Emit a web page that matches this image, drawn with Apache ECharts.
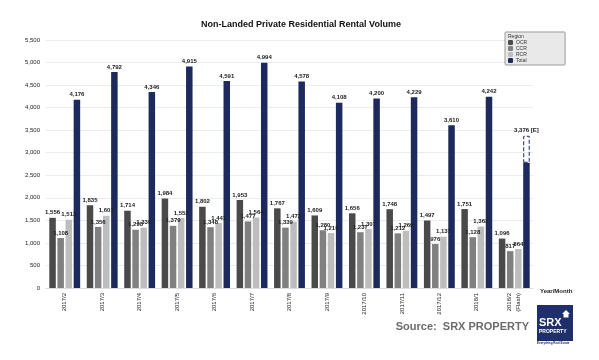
<!DOCTYPE html>
<html><head><meta charset="utf-8">
<script src="https://cdn.jsdelivr.net/npm/echarts@6/dist/echarts.min.js"></script>
<style>html,body{margin:0;padding:0;background:#fff}#c{width:599px;height:360px}</style>
</head><body><div id="c"></div>
<script>
const categories = ['2017/2','2017/3','2017/4','2017/5','2017/6','2017/7','2017/8','2017/9','2017/10','2017/11','2017/12','2018/1','2018/2\n(Flash)'];
const ocr   = [1556,1835,1714,1984,1802,1953,1767,1609,1656,1748,1497,1751,1096];
const ccr   = [1108,1356,1293,1379,1348,1477,1339,1280,1237,1212,976,1128,817];
const rcr   = [1513,1601,1339,1552,1441,1564,1472,1219,1307,1269,1137,1363,864];
const total = [4176,4792,4346,4915,4591,4994,4578,4108,4200,4229,3610,4242,2777];
const estimateTotal = 3376;
const yTicks = {min:0, max:5500, interval:500};

const estimateExtra = categories.map((c,i)=> i===categories.length-1 ? estimateTotal-total[i] : null);
const fmt = v => v.toLocaleString('en-US');
const lbl = {show:true, position:'top', fontSize:6, color:'#222', fontFamily:'Liberation Sans', fontWeight:'bold', distance:2, formatter:p=>fmt(p.value)};

const chart = echarts.init(document.getElementById('c'), null, {renderer:'canvas'});
chart.setOption({
  animation:false,
  textStyle:{fontFamily:'Liberation Sans'},
  title:{text:'Non-Landed Private Residential Rental Volume', left:296, top:15, textAlign:'center',
    textStyle:{fontSize:9, fontWeight:'bold', color:'#111', fontFamily:'Liberation Sans'}},
  legend:{orient:'vertical', left:505, top:32, width:65, itemWidth:5, itemHeight:5, itemGap:1,
    padding:[8,38,2,3], backgroundColor:'#e9e9e9', borderColor:'#999', borderWidth:1, borderRadius:1,
    textStyle:{fontSize:5, color:'#333', padding:[0,0,0,-2]},
    data:['OCR','CCR','RCR','Total']},
  grid:{left:46, right:66, top:40, bottom:72, containLabel:false},
  xAxis:{type:'category', data:categories,
    axisLine:{show:true, lineStyle:{color:'#ddd'}}, axisTick:{show:false},
    axisLabel:{rotate:90, fontSize:6, color:'#222', margin:5, lineHeight:9, interval:0}},
  yAxis:{type:'value', min:yTicks.min, max:yTicks.max, interval:yTicks.interval,
    axisLabel:{fontSize:6, color:'#222', margin:6, formatter:v=>fmt(v)},
    splitLine:{lineStyle:{color:'#ececec', width:1}}, axisLine:{show:false}, axisTick:{show:false}},
  graphic:[
    {type:'text', x:508, y:34, z:100, zlevel:1, style:{text:'Region', fontSize:5, fill:'#333', fontFamily:'Liberation Sans'}},
    {type:'text', x:540, y:288, style:{text:'Year/Month', fontSize:6, fontWeight:'bold', fill:'#222', fontFamily:'Liberation Sans'}},
    {type:'text', x:529, y:327, style:{text:'Source:  SRX PROPERTY', fontSize:11, fontWeight:'bold', fill:'#6b6b6b', fontFamily:'Liberation Sans', textAlign:'right', textVerticalAlign:'middle'}},
    {type:'rect', shape:{x:537, y:305, width:36, height:36}, style:{fill:'#1f2f6b'}},
    {type:'polygon', shape:{points:[[562,314],[566,310],[570,314],[568.5,314],[568.5,317.5],[563.5,317.5],[563.5,314]]}, style:{fill:'#fff'}},
    {type:'text', x:539, y:317, style:{text:'SRX', fontSize:11, fontWeight:'bold', fill:'#fff', fontFamily:'Liberation Sans'}},
    {type:'text', x:539, y:329, style:{text:'PROPERTY', fontSize:5, fontWeight:'bold', fill:'#fff', fontFamily:'Liberation Sans'}},
    {type:'text', x:537, y:342, style:{text:'Everything Real Estate', fontSize:3, fontWeight:'bold', fill:'#1f2f6b', fontFamily:'Liberation Sans'}}
  ],
  series:[
    {name:'OCR', type:'bar', data:ocr, barWidth:6.5, barGap:'25%', barCategoryGap:'17%', itemStyle:{color:'#4a4a4a'}, label:lbl},
    {name:'CCR', type:'bar', data:ccr, barWidth:6.5, itemStyle:{color:'#808080'}, label:lbl},
    {name:'RCR', type:'bar', data:rcr, barWidth:6.5, itemStyle:{color:'#bdbdbd'}, label:lbl},
    {name:'Total', type:'bar', stack:'tot', data:total, barWidth:6.5, itemStyle:{color:'#1c2a5e'},
      label:Object.assign({}, lbl, {formatter:p=> p.dataIndex===categories.length-1 ? '' : fmt(p.value)})},
    {name:'Estimate', type:'bar', stack:'tot', data:estimateExtra, barWidth:6.5,
      itemStyle:{color:'rgba(255,255,255,0)', borderColor:'#1c2a5e', borderWidth:1, borderType:'dashed'},
      label:Object.assign({}, lbl, {formatter:()=>fmt(estimateTotal)+' [E]'})}
  ]
});
</script></body></html>
